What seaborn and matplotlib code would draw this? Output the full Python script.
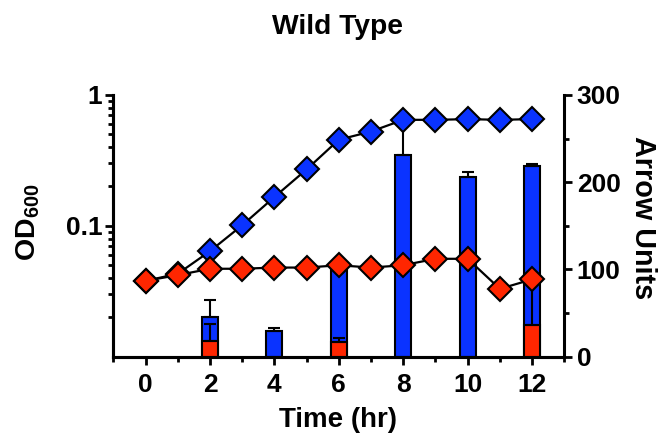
import matplotlib
matplotlib.use("Agg")
import matplotlib.pyplot as plt
import seaborn as sns
import numpy as np
import pandas as pd

# ---- data ----
times = [0, 1, 2, 3, 4, 5, 6, 7, 8, 9, 10, 11, 12]
blue_od = [0.038, 0.043, 0.064, 0.101, 0.166, 0.27, 0.455, 0.526, 0.646, 0.646, 0.654, 0.646, 0.654]
red_od = [0.038, 0.042, 0.047, 0.047, 0.048, 0.048, 0.050, 0.048, 0.050, 0.056, 0.056, 0.033, 0.039]

bar_times = [2, 4, 6, 8, 10, 12]
blue_units = [45, 30, 103, 231, 206, 219]
blue_err = [20, 3, 0, 38, 6, 2]
red_units = [18, 0, 17, 0, 0, 36]
red_err = [20, 0, 5, 0, 0, 50]

x_major = [0, 2, 4, 6, 8, 10, 12]
x_minor = [-1, 1, 3, 5, 7, 9, 11, 13]

BLUE = "#0A33FF"
RED = "#FF2600"

sns.set_theme(style="ticks")
plt.rcParams["font.family"] = ["Liberation Sans", "DejaVu Sans"]
plt.rcParams["font.weight"] = "bold"
plt.rcParams["text.color"] = "black"
plt.rcParams["axes.labelcolor"] = "black"
plt.rcParams["xtick.color"] = "black"
plt.rcParams["ytick.color"] = "black"
plt.rcParams["mathtext.fontset"] = "custom"
plt.rcParams["mathtext.rm"] = "Liberation Sans:bold"
plt.rcParams["mathtext.bf"] = "Liberation Sans:bold"
plt.rcParams["mathtext.default"] = "bf"

FS = 19
W, H = 660, 436
fig = plt.figure(figsize=(6.6, 4.36), dpi=100)
L, R, T, B = 113.3, 564.3, 95, 356.7
ax = fig.add_axes([L / W, 1 - B / H, (R - L) / W, (B - T) / H])
ax2 = ax.twinx()

# bars on right axis
df_b = pd.DataFrame({"t": bar_times, "v": blue_units, "e": blue_err})
df_r = pd.DataFrame({"t": bar_times, "v": red_units, "e": red_err})
df_b = df_b[df_b.v > 0]
df_r = df_r[df_r.v > 0]
ax2.bar(df_b.t, df_b.v, width=0.5, color=BLUE, edgecolor="black", linewidth=1.5, zorder=2)
ax2.errorbar(df_b.t, df_b.v, yerr=[np.zeros(len(df_b)), df_b.e], fmt="none",
             ecolor="black", elinewidth=1.5, capsize=4, capthick=1.5, zorder=2.5)
ax2.bar(df_r.t, df_r.v, width=0.5, color=RED, edgecolor="black", linewidth=1.5, zorder=3)
ax2.errorbar(df_r.t, df_r.v, yerr=[np.zeros(len(df_r)), df_r.e], fmt="none",
             ecolor="black", elinewidth=1.5, capsize=4, capthick=1.5, zorder=3.5)

# lines on left log axis
df_l = pd.DataFrame({"t": times, "blue": blue_od, "red": red_od})
common = dict(color="black", linewidth=1.6, marker="D", markersize=12,
              markeredgecolor="black", markeredgewidth=1.5, errorbar=None)
sns.lineplot(data=df_l, x="t", y="blue", ax=ax, markerfacecolor=BLUE, zorder=4, **common)
sns.lineplot(data=df_l, x="t", y="red", ax=ax, markerfacecolor=RED, zorder=5, **common)

ax.set_zorder(ax2.get_zorder() + 1)
ax.patch.set_visible(False)

ax.set_yscale("log")
ax.set_ylim(0.01, 1)
ax.set_yticks([0.1, 1])
ax.set_yticklabels(["0.1", "1"])
ax.set_yticks([k * 0.01 for k in range(2, 10)] + [k * 0.1 for k in range(2, 10)], minor=True)
ax.yaxis.set_minor_formatter(matplotlib.ticker.NullFormatter())
ax.set_xlim(-1, 13)
ax.set_xticks(x_major)
ax.set_xticks(x_minor, minor=True)

ax2.set_ylim(0, 300)
ax2.set_yticks([0, 100, 200, 300])
ax2.set_yticks([50, 150, 250], minor=True)

ax.set_xlabel("")
ax.set_ylabel("")
ax2.set_ylabel("")

for a in (ax, ax2):
    for s in a.spines.values():
        s.set_linewidth(2.2)
        s.set_color("black")
    a.spines["top"].set_visible(False)
    a.tick_params(which="major", length=6, width=2, colors="black", labelsize=FS)
    a.tick_params(which="minor", length=3.5, width=2, colors="black")
ax.tick_params(axis="y", which="major", pad=2)
ax.tick_params(axis="x", which="both", pad=6)
ax2.tick_params(axis="y", which="major", pad=3)
ax.spines["right"].set_visible(False)
for lab in ax.get_xticklabels() + ax.get_yticklabels() + ax2.get_yticklabels():
    lab.set_fontweight("bold")
    lab.set_color("black")

fig.text(338 / W, 1 - 27 / H, "Wild Type", ha="center", va="center", fontsize=20.3, fontweight="bold", color="black")
fig.text(338 / W, 1 - 420 / H, "Time (hr)", ha="center", va="center", fontsize=20, fontweight="bold", color="black")
fig.text(28 / W, 1 - 222.5 / H, "OD$_{600}$", ha="center", va="center", rotation=90, fontsize=20.5, fontweight="bold", color="black")
fig.text(643 / W, 1 - 218 / H, "Arrow Units", ha="center", va="center", rotation=-90, fontsize=20.7, fontweight="bold", color="black")

fig.savefig("out.png", dpi=100)
